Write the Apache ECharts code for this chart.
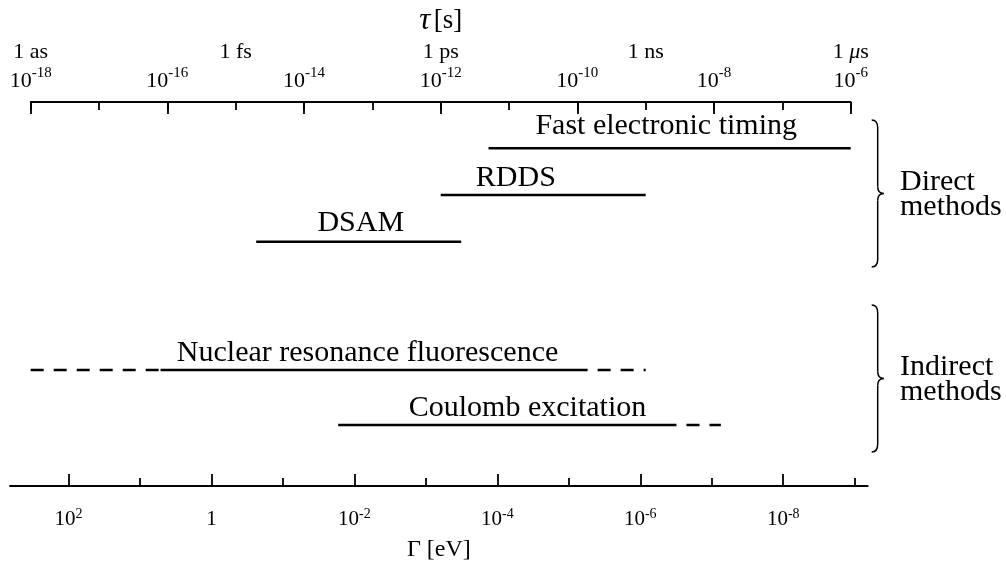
<!DOCTYPE html>
<html>
<head>
<meta charset="utf-8">
<script src="https://cdn.jsdelivr.net/npm/echarts@6/dist/echarts.min.js"></script>
<style>
  html, body { margin: 0; padding: 0; background: #fff; }
  #chart { width: 1006px; height: 569px; }
</style>
</head>
<body>
<div id="chart"></div>
<script>
// Lifetime windows of each method, as log10(tau / s)
const methods = ['Fast electronic timing', 'RDDS', 'DSAM', 'Nuclear resonance fluorescence', 'Coulomb excitation'];
const solidFrom = [-11.3, -12.0, -14.7, -16.1, -13.5];
const solidTo = [-6.0, -9.0, -11.7, -9.85, -8.55];
// dashed extensions beyond the solid range (null = none)
const dashedFrom = [null, null, null, -18.0, null];
const dashedTo = [null, null, null, -9.0, -7.9];
// where each method's name is centred along the tau axis
const labelCenter = [-8.7, -10.9, -13.17, -13.07, -10.73];

// Top axis: lifetime tau
const tauMin = -18, tauMax = -6;
const tauPowerTicks = [-18, -16, -14, -12, -10, -8, -6];
const tauUnitTicks = [-18, -15, -12, -9, -6];
const tauUnitNames = ['1 as', '1 fs', '1 ps', '1 ns', '1 \u03bcs'];

// Bottom axis: width Gamma = hbar / tau
const HBAR_EV_S = 6.582e-16;
const gammaPowerTicks = [2, 0, -2, -4, -6, -8];
const gammaMinorTicks = [1, -1, -3, -5, -7, -9];

const groupNames = ['Direct\nmethods', 'Indirect\nmethods'];

// ---- layout ----
const FONT = 'Liberation Serif';
const INK = '#000';
const laneY = [46.3, 93, 139.7, 268, 323];      // lane offsets below the top axis
const labelLift = [22, 17, 18.5, 17, 17];        // name raised above its line
const DASH = [13, 10];

const gammaMax = Math.log10(HBAR_EV_S) - tauMin;
const gammaMin = Math.log10(HBAR_EV_S) - tauMax;

function tauLabel(v) {
  const e = Math.round(v);
  const ui = tauUnitTicks.indexOf(e);
  const hasPow = tauPowerTicks.indexOf(e) >= 0;
  if (ui < 0 && !hasPow) return '';
  let unit = '{u| }';
  if (ui >= 0) {
    const name = tauUnitNames[ui];
    unit = name.indexOf('\u03bc') >= 0 ? '{u|1 }{mu|\u03bc}{u|s}' : '{u|' + name + '}';
  }
  const pow = hasPow ? '{b|10}{s|' + e + '}' : '{b| }';
  return unit + '\n' + pow;
}

function gammaLabel(v) {
  const e = Math.round(v);
  if (e === 0) return '{b|1}';
  return '{b|10}{s|' + e + '}';
}

function seg(a, b, y, type, offset) {
  return {
    type: 'line', xAxisIndex: 0, yAxisIndex: 0, silent: true,
    showSymbol: false, symbol: 'none', animation: false,
    data: [[a, y], [b, y]],
    lineStyle: { color: INK, width: 2.6, type: type, dashOffset: offset, cap: 'butt' }
  };
}

const series = [];
methods.forEach((m, i) => {
  series.push(seg(solidFrom[i], solidTo[i], laneY[i], 'solid', 0));
  if (dashedFrom[i] != null) series.push(seg(dashedFrom[i], solidFrom[i], laneY[i], DASH, 0));
  if (dashedTo[i] != null) series.push(seg(solidTo[i], dashedTo[i], laneY[i], DASH, 13));
});
series.push({
  type: 'scatter', xAxisIndex: 0, yAxisIndex: 0, silent: true, animation: false,
  symbolSize: 0, itemStyle: { color: 'transparent', opacity: 1 },
  data: methods.map((m, i) => ({
    name: m, value: [labelCenter[i], laneY[i]],
    label: { offset: [0, -labelLift[i]] }
  })),
  label: {
    show: true, position: 'inside', formatter: '{b}', opacity: 1,
    fontFamily: FONT, fontSize: 30, color: INK, textBorderWidth: 0
  }
});

const lineStyle = { color: INK, width: 1.8 };

// curly brace made of quadratic curves and straight runs
function braceParts(x, top, bottom) {
  const mid = (top + bottom) / 2, s = x + 6, t = x + 12;
  const st = { stroke: INK, lineWidth: 1.5, fill: 'none' };
  const q = (x1, y1, cx, cy, x2, y2) => ({
    type: 'bezierCurve', silent: true, style: st,
    shape: { x1: x1, y1: y1, cpx1: cx, cpy1: cy, x2: x2, y2: y2 }
  });
  const l = (x1, y1, x2, y2) => ({
    type: 'line', silent: true, style: st,
    shape: { x1: x1, y1: y1, x2: x2, y2: y2 }
  });
  return [
    q(x, top, s, top, s, top + 8),
    l(s, top + 8, s, mid - 7),
    q(s, mid - 7, s, mid, t, mid),
    q(t, mid, s, mid, s, mid + 7),
    l(s, mid + 7, s, bottom - 8),
    q(s, bottom - 8, s, bottom, x, bottom)
  ];
}

const braces = [[120, 267], [305, 452]];
let graphic = [];
braces.forEach((b, i) => {
  graphic = graphic.concat(braceParts(871.7, b[0], b[1]));
  graphic.push({
    type: 'text', silent: true, x: 900, y: (b[0] + b[1]) / 2 + 1,
    style: {
      text: groupNames[i], fill: INK, fontFamily: FONT, fontSize: 30,
      lineHeight: 25, align: 'left', verticalAlign: 'middle'
    }
  });
});

const chart = echarts.init(document.getElementById('chart'), null, { renderer: 'canvas' });
chart.setOption({
  backgroundColor: '#fff',
  animation: false,
  grid: [
    { left: 30.7, right: 155.3, top: 102, bottom: 80 },
    { left: 10, right: 138.3, top: 102, bottom: 80 }
  ],
  xAxis: [
    {
      gridIndex: 0, type: 'value', position: 'top', min: tauMin, max: tauMax, interval: 1,
      axisLine: { show: true, onZero: false, lineStyle: lineStyle },
      axisTick: { show: true, inside: true, length: 8, lineStyle: lineStyle },
      splitLine: { show: false },
      axisLabel: {
        show: true, margin: 6, color: INK, formatter: tauLabel, interval: 0,
        showMinLabel: true, showMaxLabel: true,
        rich: {
          u: { fontFamily: FONT, fontSize: 22, lineHeight: 28, color: INK },
          mu: { fontFamily: FONT, fontSize: 22, lineHeight: 28, fontStyle: 'italic', color: INK },
          b: { fontFamily: FONT, fontSize: 22, lineHeight: 30, color: INK },
          s: { fontFamily: FONT, fontSize: 15, lineHeight: 9, verticalAlign: 'top', color: INK }
        }
      },
      name: '{t|\u03c4} {n|[s]}', nameLocation: 'middle', nameGap: 64,
      nameTextStyle: {
        rich: {
          t: { fontFamily: FONT, fontSize: 31, fontStyle: 'italic', lineHeight: 30, color: INK },
          n: { fontFamily: FONT, fontSize: 27, lineHeight: 30, color: INK }
        }
      }
    },
    {
      gridIndex: 0, type: 'value', position: 'top', min: tauMin, max: tauMax, interval: 2,
      axisLine: { show: false, onZero: false },
      axisTick: { show: true, inside: true, length: 12, lineStyle: lineStyle },
      axisLabel: { show: false }, splitLine: { show: false }
    },
    {
      gridIndex: 1, type: 'value', position: 'bottom', inverse: true, min: gammaMin, max: gammaMax,
      axisLine: { show: true, onZero: false, lineStyle: lineStyle },
      axisTick: { show: true, inside: true, length: 12, lineStyle: lineStyle, customValues: gammaPowerTicks },
      splitLine: { show: false },
      axisLabel: {
        show: true, margin: 21, color: INK, formatter: gammaLabel, customValues: gammaPowerTicks,
        rich: {
          b: { fontFamily: FONT, fontSize: 21, lineHeight: 24, color: INK },
          s: { fontFamily: FONT, fontSize: 14, lineHeight: 9, verticalAlign: 'top', color: INK }
        }
      },
      name: '\u0393 [eV]', nameLocation: 'middle', nameGap: 50,
      nameTextStyle: { fontFamily: FONT, fontSize: 24, lineHeight: 28, color: INK }
    },
    {
      gridIndex: 1, type: 'value', position: 'bottom', inverse: true, min: gammaMin, max: gammaMax,
      axisLine: { show: false, onZero: false },
      axisTick: { show: true, inside: true, length: 8, lineStyle: lineStyle, customValues: gammaMinorTicks },
      axisLabel: { show: false }, splitLine: { show: false }
    }
  ],
  yAxis: [
    { gridIndex: 0, type: 'value', show: false, inverse: true, min: 0, max: 387,
      axisLine: { onZero: false }, splitLine: { show: false } },
    { gridIndex: 1, type: 'value', show: false, min: 0, max: 1,
      axisLine: { onZero: false }, splitLine: { show: false } }
  ],
  series: series,
  graphic: graphic
});
</script>
</body>
</html>
